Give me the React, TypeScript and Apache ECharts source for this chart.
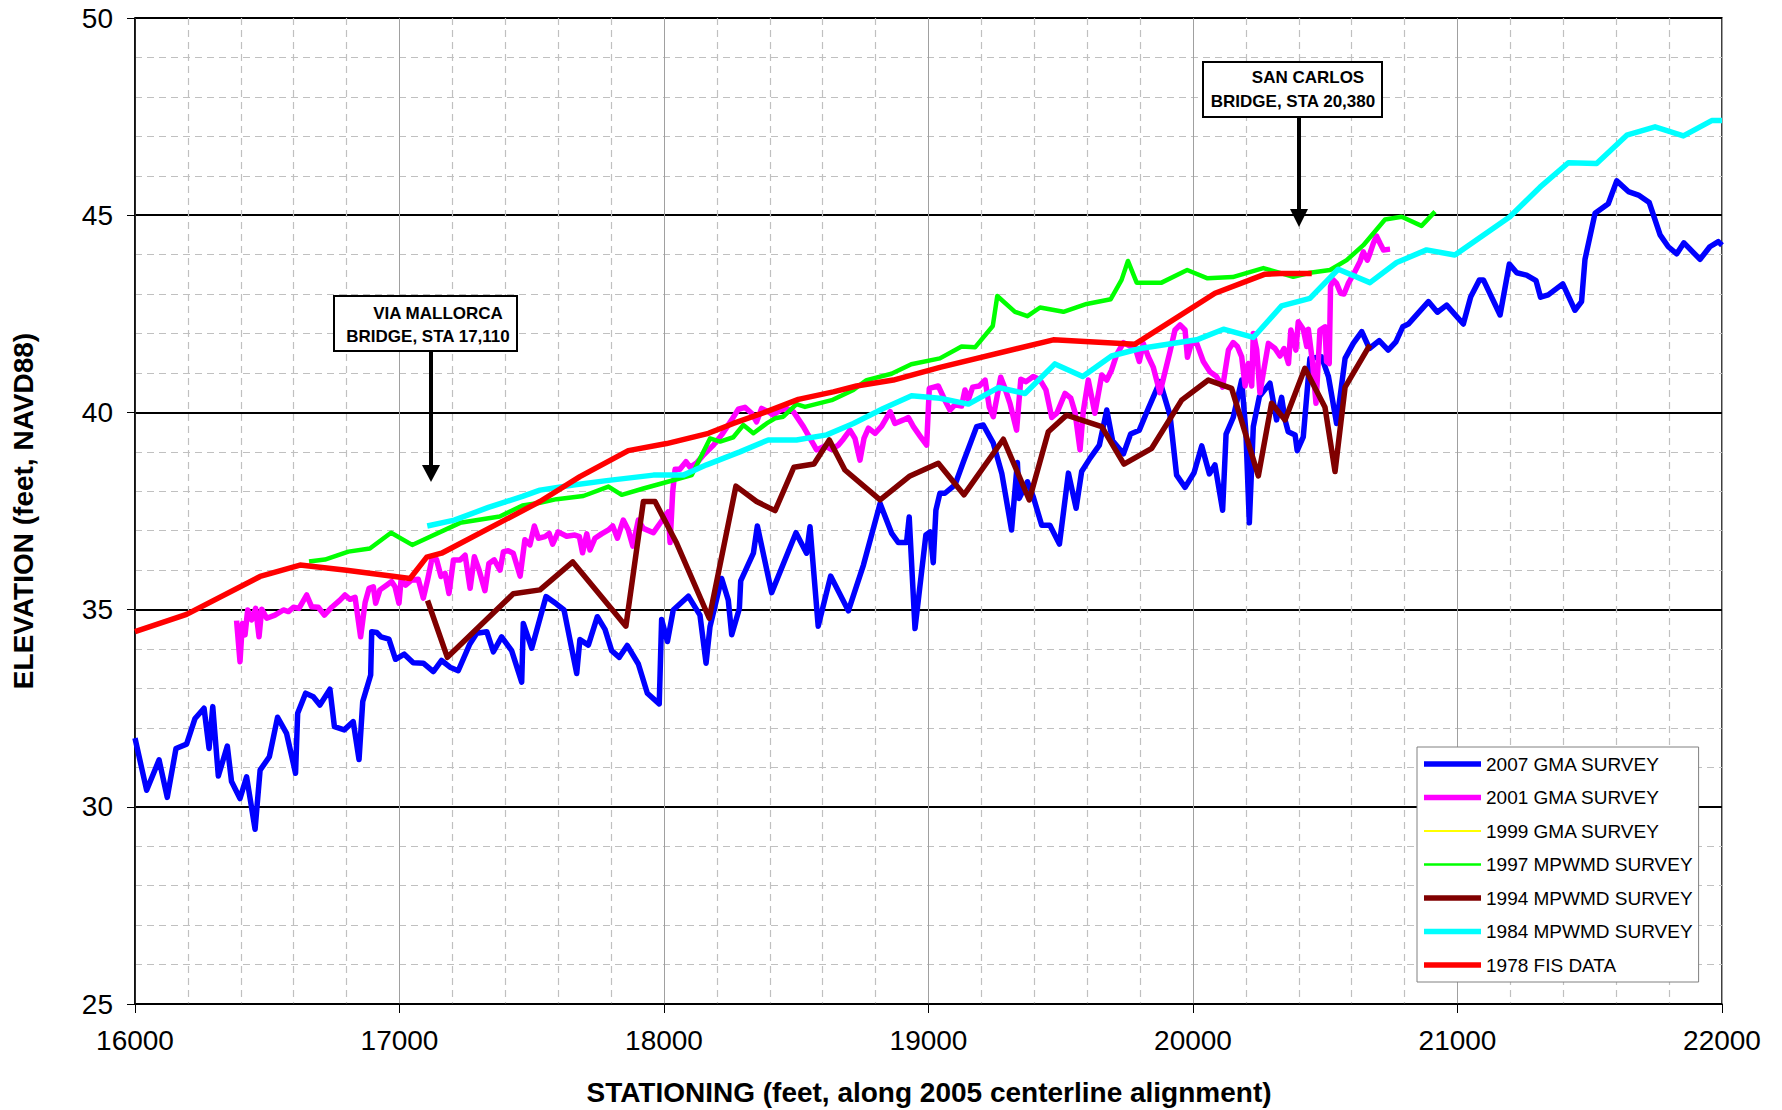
import React, { useEffect, useRef } from 'react';
import * as echarts from 'echarts';

const FONT = 'Liberation Sans';

const seriesNames = [
  '2007 GMA SURVEY',
  '2001 GMA SURVEY',
  '1999 GMA SURVEY',
  '1997 MPWMD SURVEY',
  '1994 MPWMD SURVEY',
  '1984 MPWMD SURVEY',
  '1978 FIS DATA',
];

const gma2007 = [
  [16000,31.74],[16044,30.42],[16091,31.19],[16122,30.24],[16155,31.48],[16195,31.59],[16227,32.24],[16261,32.50],[16280,31.48],[16294,32.54],[16315,30.78],[16349,31.54],[16365,30.64],[16397,30.21],[16422,30.76],[16454,29.43],[16473,30.93],[16508,31.27],[16539,32.27],[16573,31.86],[16607,30.85],[16615,32.37],[16645,32.88],[16674,32.79],[16699,32.58],[16737,32.98],[16754,32.03],[16791,31.95],[16825,32.16],[16847,31.20],[16861,32.67],[16891,33.34],[16895,34.44],[16914,34.42],[16930,34.31],[16960,34.25],[16985,33.74],[17018,33.87],[17052,33.65],[17090,33.64],[17128,33.43],[17159,33.71],[17191,33.54],[17222,33.45],[17266,34.13],[17292,34.40],[17330,34.44],[17355,33.93],[17386,34.31],[17424,33.96],[17462,33.16],[17468,34.65],[17500,34.02],[17554,35.33],[17594,35.14],[17622,34.99],[17670,33.38],[17682,34.24],[17714,34.10],[17748,34.82],[17777,34.50],[17802,33.96],[17831,33.79],[17861,34.09],[17903,33.62],[17937,32.88],[17982,32.61],[17991,34.75],[18013,34.19],[18035,34.99],[18092,35.34],[18136,34.86],[18159,33.64],[18174,34.57],[18218,35.79],[18243,35.24],[18256,34.36],[18285,35.03],[18290,35.73],[18338,36.43],[18353,37.12],[18407,35.43],[18499,36.95],[18539,36.43],[18552,37.10],[18583,34.58],[18630,35.85],[18697,34.97],[18754,36.13],[18817,37.69],[18861,36.93],[18886,36.70],[18917,36.70],[18927,37.35],[18949,34.52],[18990,36.89],[19006,36.97],[19018,36.19],[19028,37.52],[19043,37.95],[19062,37.95],[19100,38.16],[19132,38.75],[19182,39.64],[19207,39.68],[19245,39.22],[19277,38.46],[19314,37.02],[19336,38.73],[19343,37.82],[19374,38.24],[19396,37.86],[19428,37.14],[19459,37.14],[19495,36.66],[19529,38.46],[19558,37.57],[19579,38.50],[19611,38.84],[19646,39.17],[19674,40.06],[19696,39.28],[19737,38.95],[19764,39.45],[19797,39.55],[19831,40.10],[19875,40.78],[19913,39.93],[19938,38.41],[19970,38.10],[20004,38.47],[20033,39.15],[20062,38.44],[20083,38.67],[20112,37.52],[20125,39.45],[20152,39.87],[20184,40.82],[20200,39.49],[20213,37.20],[20228,39.64],[20251,40.40],[20291,40.74],[20316,39.81],[20335,40.38],[20348,39.81],[20360,39.51],[20386,39.43],[20394,39.03],[20417,39.38],[20442,41.37],[20486,41.41],[20512,40.91],[20543,39.72],[20575,41.37],[20606,41.75],[20638,42.05],[20667,41.62],[20704,41.82],[20738,41.58],[20767,41.79],[20793,42.17],[20814,42.24],[20890,42.81],[20924,42.54],[20959,42.72],[21022,42.24],[21050,42.93],[21083,43.36],[21098,43.36],[21161,42.47],[21196,43.76],[21224,43.54],[21261,43.48],[21297,43.34],[21314,42.92],[21343,42.98],[21398,43.26],[21444,42.59],[21469,42.81],[21482,43.88],[21520,45.05],[21570,45.29],[21602,45.87],[21646,45.60],[21684,45.51],[21725,45.32],[21766,44.50],[21797,44.20],[21829,44.02],[21856,44.30],[21917,43.88],[21954,44.20],[21986,44.33],[22000,44.24],
];

const gma2001 = [
  [16384,34.72],[16397,33.68],[16406,34.65],[16416,34.36],[16426,34.99],[16441,34.74],[16456,35.03],[16469,34.31],[16479,35.01],[16498,34.78],[16529,34.86],[16561,34.99],[16580,34.95],[16599,35.06],[16620,35.03],[16649,35.37],[16668,35.07],[16693,35.06],[16716,34.86],[16744,35.06],[16775,35.24],[16794,35.37],[16813,35.26],[16832,35.31],[16853,34.31],[16870,35.18],[16885,35.54],[16901,35.58],[16910,35.16],[16926,35.50],[16951,35.62],[16970,35.71],[16983,35.58],[16998,35.16],[17006,35.75],[17023,35.62],[17046,35.75],[17071,35.77],[17090,35.29],[17106,35.75],[17122,36.26],[17140,36.27],[17157,35.84],[17172,35.92],[17187,35.41],[17204,36.26],[17229,36.26],[17248,36.38],[17267,35.54],[17283,36.34],[17301,36.00],[17323,35.48],[17338,36.17],[17358,36.26],[17380,36.00],[17393,36.47],[17411,36.49],[17430,36.43],[17456,35.85],[17474,36.77],[17493,36.64],[17510,37.12],[17525,36.81],
  [17550,36.85],[17566,36.93],[17579,36.66],[17600,36.97],[17632,36.86],[17663,36.89],[17680,36.85],[17692,36.44],[17708,36.92],[17720,36.51],[17739,36.81],[17764,36.92],[17790,37.02],[17806,37.12],[17824,36.81],[17846,37.27],[17865,37.02],[17882,36.61],[17903,37.27],[17922,37.06],[17960,36.95],[17985,37.19],[18016,37.48],[18023,36.70],[18033,37.99],[18042,38.56],[18060,38.56],[18083,38.75],[18098,38.61],[18124,38.72],[18149,38.92],[18187,39.17],[18218,39.43],[18256,39.81],[18281,40.08],[18306,40.13],[18331,39.98],[18350,39.76],[18369,40.10],[18394,40.02],[18413,39.93],[18439,40.06],[18464,40.10],[18489,40.02],[18527,39.64],[18577,39.05],[18609,39.15],[18634,39.06],[18659,39.17],[18678,39.32],[18703,39.55],[18722,39.34],[18741,38.79],[18756,39.34],[18773,39.60],[18798,39.47],[18823,39.65],[18855,40.02],[18873,39.72],[18905,39.81],[18924,39.87],[18943,39.64],[18968,39.40],[18993,39.17],[19003,40.61],[19037,40.67],
  [19062,40.31],[19081,40.06],[19100,40.19],[19125,40.16],[19138,40.57],[19151,40.33],[19167,40.64],[19192,40.67],[19214,40.82],[19230,40.13],[19245,39.89],[19273,40.89],[19289,40.61],[19308,40.23],[19333,39.55],[19349,40.84],[19369,40.78],[19396,40.91],[19422,40.82],[19444,40.57],[19466,39.87],[19485,39.98],[19516,40.48],[19538,40.36],[19554,40.00],[19573,39.05],[19585,40.02],[19604,40.82],[19629,39.98],[19655,40.95],[19674,40.82],[19692,41.07],[19711,41.46],[19737,41.77],[19762,41.68],[19781,41.65],[19797,41.29],[19812,41.75],[19831,41.41],[19850,41.14],[19875,40.50],[19890,40.91],[19913,41.54],[19932,42.09],[19951,42.22],[19970,42.09],[19979,41.40],[19995,41.77],[20014,41.75],[20039,41.29],[20064,41.03],[20089,40.91],[20112,40.64],[20134,41.58],[20152,41.77],[20168,41.67],[20184,41.41],[20197,40.67],[20209,41.24],[20222,40.67],[20228,42.00],[20241,41.58],[20253,40.50],[20285,41.75],[20310,41.62],[20329,41.43],[20344,41.62],[20361,41.24],[20370,42.09],[20389,41.58],[20398,42.30],[20417,42.11],[20430,41.67],[20436,42.11],[20452,41.26],[20465,40.23],[20480,42.09],[20499,42.17],[20505,41.29],[20515,41.24],[20520,43.19],[20530,43.36],[20543,43.27],[20558,43.02],[20571,43.00],[20587,43.27],[20609,43.53],[20631,43.82],[20644,44.07],[20659,43.86],[20669,44.03],[20682,44.29],[20694,44.47],[20707,44.29],[20720,44.12],[20745,44.14],
];

const gma1999: number[][] = [];

const mpwmd1997 = [
  [16658,36.22],[16718,36.27],[16807,36.47],[16888,36.55],[16968,36.95],[17048,36.64],[17229,37.20],[17379,37.36],[17465,37.64],[17531,37.71],[17594,37.80],[17695,37.88],[17790,38.12],[17840,37.91],[17922,38.07],[18035,38.28],[18105,38.41],[18174,39.34],[18212,39.26],[18262,39.37],[18300,39.68],[18338,39.47],[18388,39.72],[18420,39.85],[18451,39.89],[18501,40.21],[18533,40.14],[18634,40.31],[18716,40.57],[18766,40.82],[18860,40.98],[18935,41.22],[19043,41.37],[19125,41.67],[19176,41.65],[19243,42.19],[19260,42.95],[19327,42.55],[19374,42.44],[19422,42.66],[19510,42.55],[19598,42.75],[19689,42.87],[19730,43.36],[19754,43.84],[19787,43.29],[19881,43.29],[19978,43.61],[20055,43.40],[20150,43.43],[20266,43.66],[20379,43.44],[20442,43.54],[20518,43.61],[20581,43.86],[20644,44.24],[20726,44.89],[20789,44.96],[20864,44.73],[20915,45.09],
];

const mpwmd1994 = [
  [17106,35.23],[17181,33.79],[17430,35.40],[17531,35.50],[17655,36.21],[17856,34.58],[17922,37.74],[17966,37.74],[18048,36.68],[18171,34.78],[18272,38.13],[18350,37.74],[18420,37.51],[18491,38.61],[18567,38.69],[18625,39.30],[18684,38.54],[18817,37.78],[18930,38.39],[19037,38.71],[19134,37.91],[19283,39.32],[19381,37.78],[19453,39.51],[19522,39.93],[19655,39.64],[19739,38.69],[19844,39.09],[19957,40.31],[20058,40.82],[20146,40.61],[20247,38.39],[20297,40.23],[20348,39.81],[20423,41.12],[20499,40.13],[20537,38.50],[20575,40.64],[20669,41.71],
];

const mpwmd1984 = [
  [17105,37.12],[17207,37.27],[17336,37.59],[17465,37.87],[17531,38.03],[17657,38.16],[17783,38.27],[17960,38.41],[18073,38.41],[18161,38.67],[18287,39.00],[18394,39.30],[18501,39.30],[18615,39.43],[18716,39.72],[18829,40.10],[18936,40.42],[19043,40.36],[19151,40.21],[19264,40.63],[19365,40.48],[19478,41.23],[19583,40.91],[19692,41.43],[19800,41.62],[20014,41.84],[20115,42.11],[20228,41.90],[20335,42.70],[20442,42.89],[20549,43.63],[20669,43.29],[20770,43.80],[20883,44.12],[20990,43.99],[21198,44.96],[21312,45.71],[21419,46.33],[21526,46.31],[21640,47.03],[21747,47.24],[21854,47.01],[21961,47.40],[22000,47.40],
];

const fis1978 = [
  [16000,34.44],[16195,34.88],[16473,35.84],[16624,36.13],[16800,36.00],[17040,35.79],[17103,36.33],[17159,36.43],[17531,37.74],[17682,38.37],[17865,39.03],[18010,39.21],[18168,39.47],[18262,39.72],[18388,40.02],[18508,40.33],[18640,40.52],[18728,40.67],[18867,40.82],[19043,41.14],[19472,41.84],[19781,41.73],[20083,43.02],[20270,43.50],[20329,43.52],[20449,43.52],
];

const seriesData = [gma2007, gma2001, gma1999, mpwmd1997, mpwmd1994, mpwmd1984, fis1978];
const seriesColors = ['#0000ff', '#ff00ff', '#ffff00', '#00ff00', '#800000', '#00ffff', '#ff0000'];
const seriesWidths = [5.5, 5.5, 2, 4.5, 5.5, 5.5, 5.5];
const legendWidths = [5.5, 5.5, 2, 2.5, 5.5, 5.5, 5.5];

const xTitle = 'STATIONING (feet, along 2005 centerline alignment)';
const yTitle = 'ELEVATION (feet, NAVD88)';

export default function App() {
  const ref = useRef<HTMLDivElement>(null);
  useEffect(() => {
    if (!ref.current) return;
    const chart = echarts.init(ref.current, null, { renderer: 'svg' });
    const boldText = (text: string, x: number, y: number, size: number, extra: any = {}) => ({
      type: 'text',
      x,
      y,
      z: 20,
      ...extra,
      style: {
        text,
        fontSize: size,
        fontWeight: 'bold',
        fontFamily: FONT,
        fill: '#000',
        align: 'center',
        verticalAlign: 'middle',
      },
    });
    chart.setOption({
      animation: false,
      backgroundColor: '#fff',
      grid: {
        left: 135,
        right: 60,
        top: 18,
        bottom: 106,
        show: true,
        borderColor: '#000',
        borderWidth: 1.5,
      },
      xAxis: {
        type: 'value',
        min: 16000,
        max: 22000,
        interval: 1000,
        axisLine: { show: true, onZero: false, lineStyle: { color: '#000', width: 1.5 } },
        axisTick: { show: true, length: 9, lineStyle: { color: '#000', width: 1 } },
        axisLabel: {
          fontSize: 28,
          color: '#000',
          fontFamily: FONT,
          margin: 22,
          formatter: (v: number) => String(v),
        },
        splitLine: { show: true, lineStyle: { color: '#a0a0a0', width: 1 } },
        minorTick: { show: false, splitNumber: 5 },
        minorSplitLine: { show: true, lineStyle: { color: '#c0c0c0', width: 1.2, type: [7, 5] } },
      },
      yAxis: {
        type: 'value',
        min: 25,
        max: 50,
        interval: 5,
        axisLine: { show: true, onZero: false, lineStyle: { color: '#000', width: 1.5 } },
        axisTick: { show: true, length: 8, lineStyle: { color: '#000', width: 1 } },
        axisLabel: { fontSize: 28, color: '#000', fontFamily: FONT, margin: 22 },
        splitLine: { show: true, lineStyle: { color: '#000', width: 2 } },
        minorTick: { show: false, splitNumber: 5 },
        minorSplitLine: { show: true, lineStyle: { color: '#c0c0c0', width: 1.2, type: [7, 5] } },
      },
      legend: {
        orient: 'vertical',
        left: 1417,
        top: 747,
        padding: [7, 6, 7, 7],
        itemGap: 13.5,
        itemWidth: 57,
        itemHeight: 14,
        selectedMode: false,
        backgroundColor: '#fff',
        borderColor: '#808080',
        borderWidth: 1,
        z: 10,
        textStyle: { fontSize: 19, fontFamily: FONT, color: '#000', lineHeight: 20 },
        data: seriesNames.map((name, i) => ({
          name,
          icon: `path://M0,0H57V${legendWidths[i]}H0Z`,
          itemStyle: { color: seriesColors[i], borderWidth: 0 },
        })),
      },
      series: seriesNames.map((name, i) => ({
        name,
        type: 'line',
        data: seriesData[i],
        showSymbol: false,
        symbol: 'none',
        color: seriesColors[i],
        lineStyle: { color: seriesColors[i], width: seriesWidths[i], join: 'round' },
        z: 2 + i * 0.01,
      })),
      graphic: [
        boldText(yTitle, 23, 511, 28, { rotation: Math.PI / 2 }),
        boldText(xTitle, 929, 1092, 28),
        {
          type: 'rect', z: 20,
          shape: { x: 334, y: 296, width: 183, height: 55 },
          style: { fill: '#fff', stroke: '#000', lineWidth: 2 },
        },
        boldText('VIA MALLORCA', 438, 313, 17),
        boldText('BRIDGE, STA 17,110', 428, 336, 17),
        { type: 'line', z: 20, shape: { x1: 431, y1: 351, x2: 431, y2: 468 }, style: { stroke: '#000', lineWidth: 4 } },
        { type: 'polygon', z: 20, shape: { points: [[422, 465], [440, 465], [431, 482]] }, style: { fill: '#000' } },
        {
          type: 'rect', z: 20,
          shape: { x: 1203, y: 62, width: 179, height: 55 },
          style: { fill: '#fff', stroke: '#000', lineWidth: 2 },
        },
        boldText('SAN CARLOS', 1308, 77, 17),
        boldText('BRIDGE, STA 20,380', 1293, 101, 17),
        { type: 'line', z: 20, shape: { x1: 1299, y1: 117, x2: 1299, y2: 212 }, style: { stroke: '#000', lineWidth: 4 } },
        { type: 'polygon', z: 20, shape: { points: [[1290, 209], [1308, 209], [1299, 227]] }, style: { fill: '#000' } },
      ],
    });
    return () => chart.dispose();
  }, []);
  return (
    <div
      ref={ref}
      style={{ position: 'fixed', left: 0, top: 0, width: 1782, height: 1110, background: '#fff' }}
    />
  );
}
